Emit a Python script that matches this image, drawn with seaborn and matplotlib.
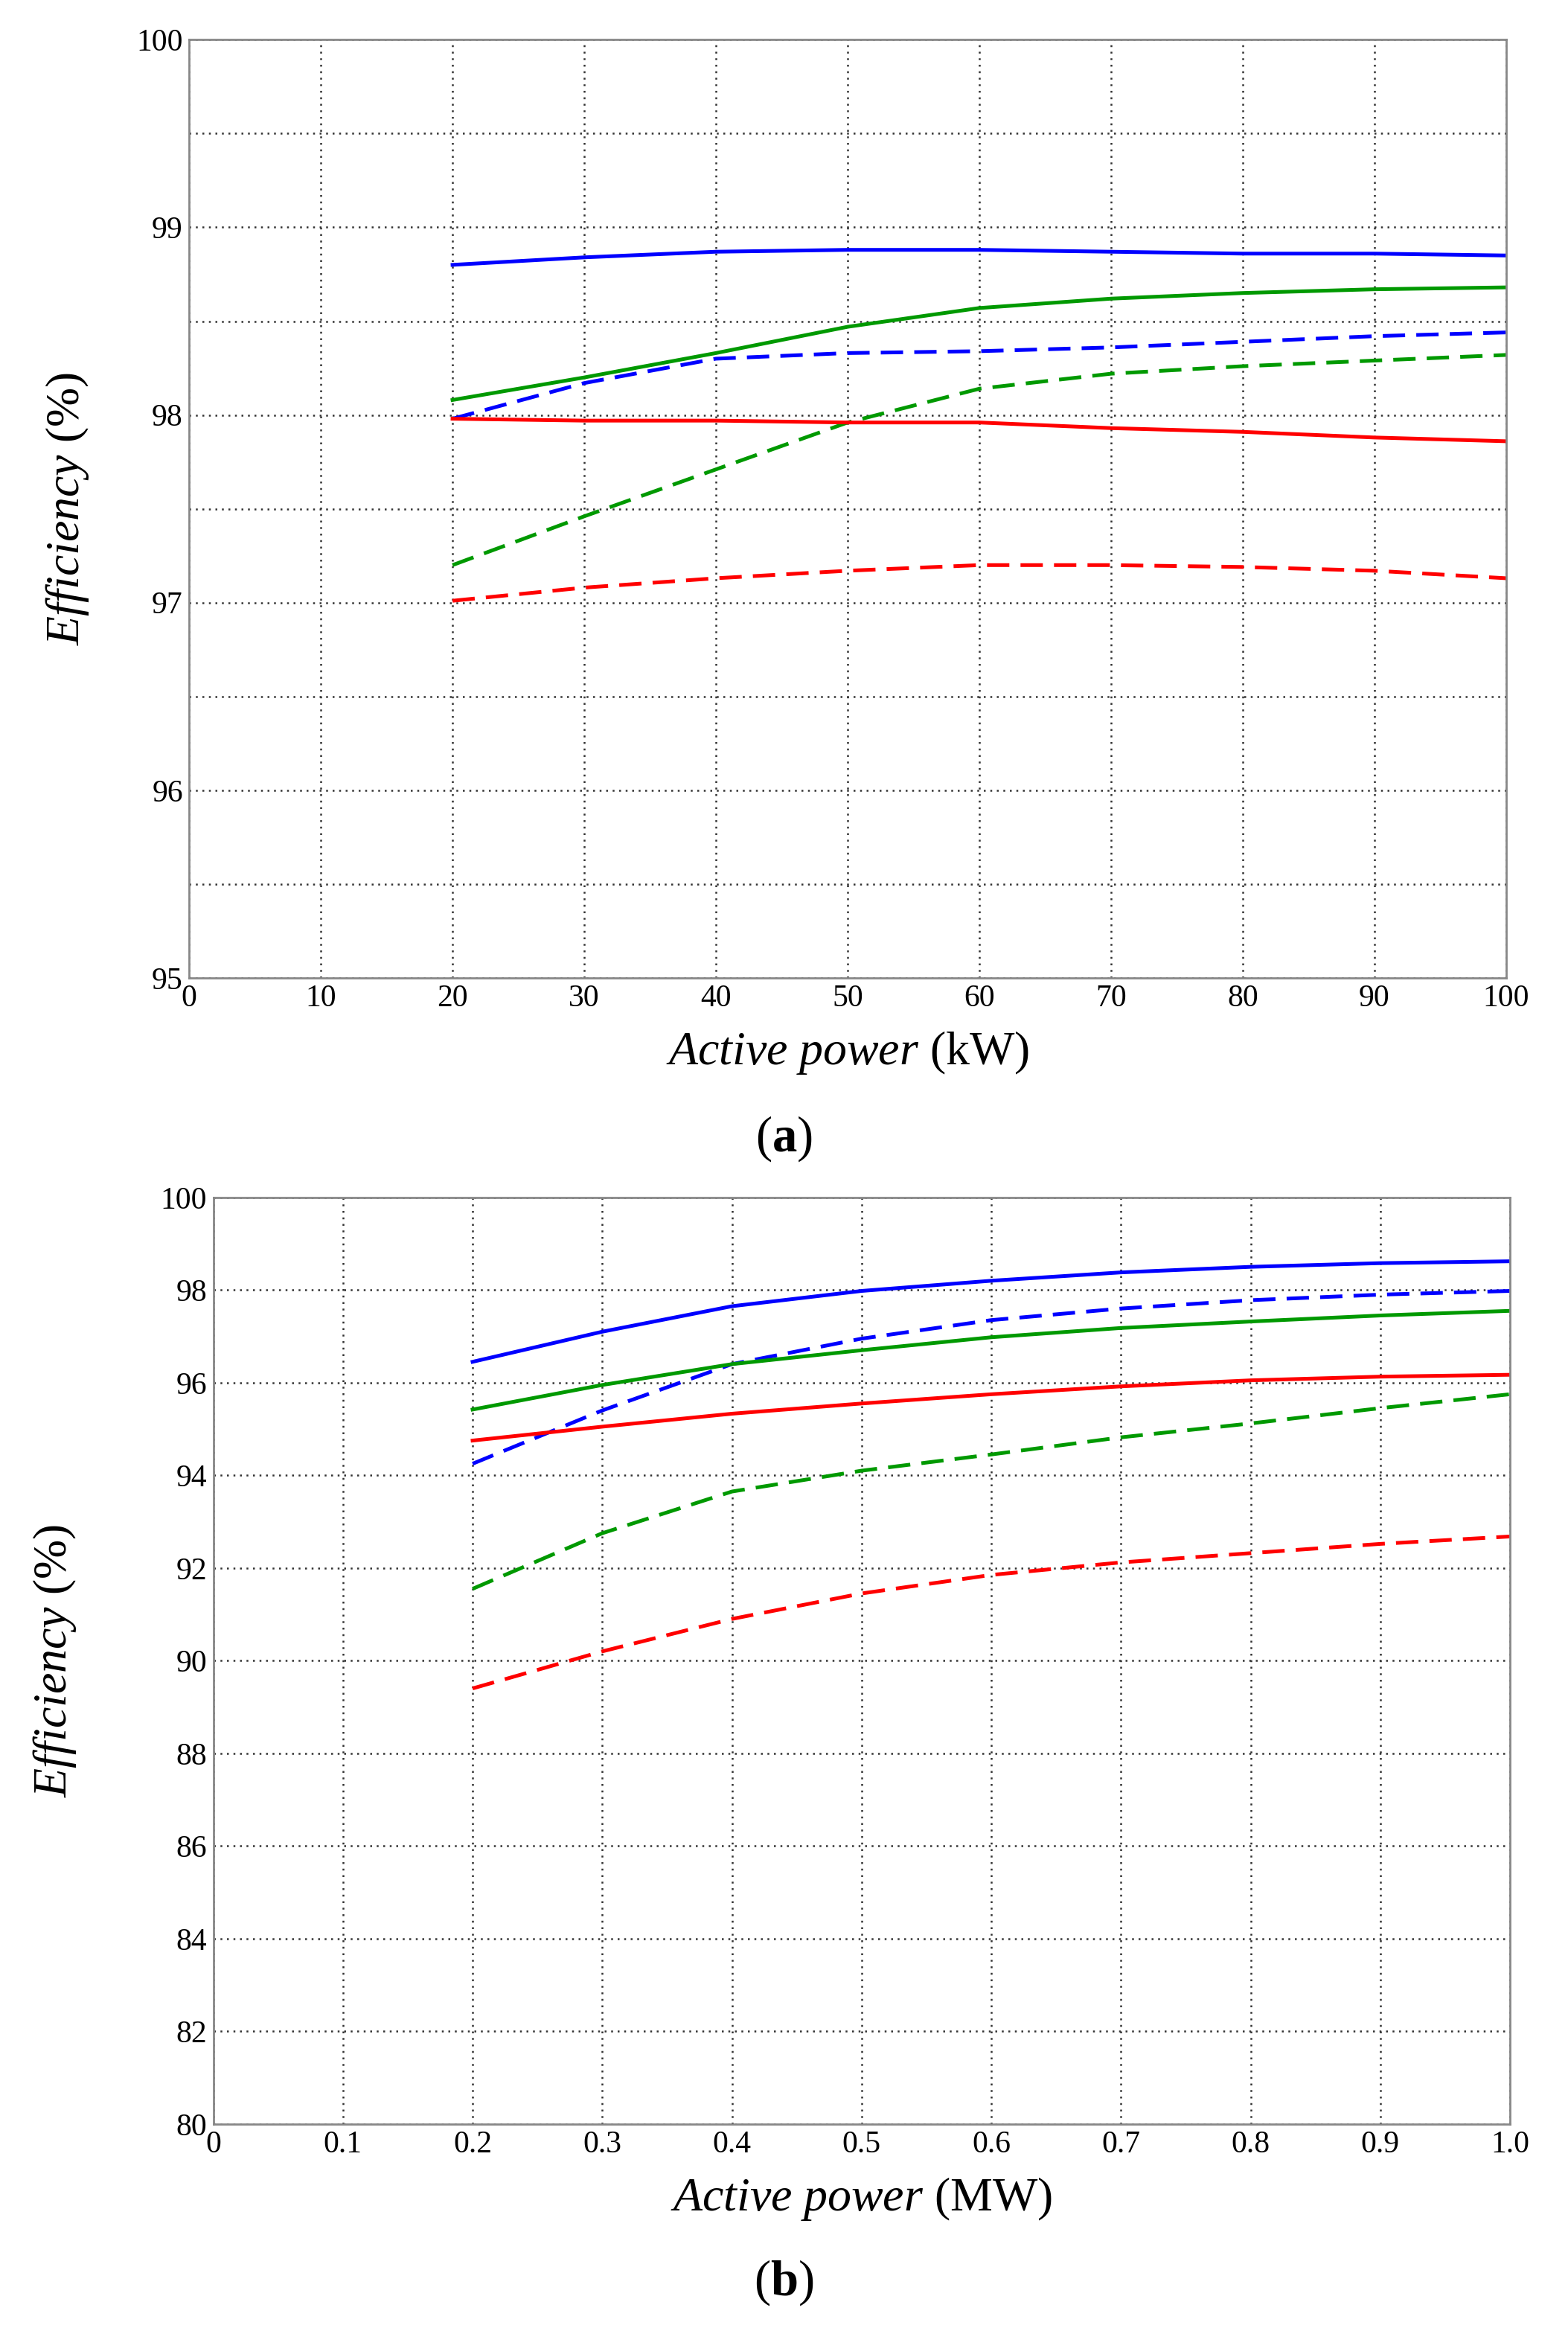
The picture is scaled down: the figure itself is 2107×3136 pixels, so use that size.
import numpy as np
import pandas as pd
import matplotlib
matplotlib.use("Agg")
import matplotlib.pyplot as plt
import seaborn as sns

plt.rcParams["font.family"] = "Liberation Serif"
plt.rcParams["mathtext.fontset"] = "custom"
plt.rcParams["mathtext.rm"] = "Liberation Serif"
plt.rcParams["mathtext.it"] = "Liberation Serif:italic"
plt.rcParams["mathtext.bf"] = "Liberation Serif:bold"

# panel (a) data, kW
x_a = [20, 30, 40, 50, 60, 70, 80, 90, 100]
a_blue_solid = [98.80, 98.84, 98.87, 98.88, 98.88, 98.87, 98.86, 98.86, 98.85]
a_green_solid = [98.08, 98.20, 98.33, 98.47, 98.57, 98.62, 98.65, 98.67, 98.68]
a_blue_dash = [97.98, 98.17, 98.30, 98.33, 98.34, 98.36, 98.39, 98.42, 98.44]
a_green_dash = [97.20, 97.46, 97.71, 97.96, 98.14, 98.22, 98.26, 98.29, 98.32]
a_red_solid = [97.98, 97.97, 97.97, 97.96, 97.96, 97.93, 97.91, 97.88, 97.86]
a_red_dash = [97.01, 97.08, 97.13, 97.17, 97.20, 97.20, 97.19, 97.17, 97.13]

# panel (b) data, MW
x_b = [0.2, 0.3, 0.4, 0.5, 0.6, 0.7, 0.8, 0.9, 1.0]
b_blue_solid = [96.45, 97.10, 97.65, 97.98, 98.20, 98.38, 98.50, 98.58, 98.62]
b_blue_dash = [94.25, 95.40, 96.40, 96.95, 97.35, 97.60, 97.78, 97.90, 97.98]
b_green_solid = [95.42, 95.95, 96.40, 96.70, 96.98, 97.18, 97.32, 97.45, 97.55]
b_red_solid = [94.75, 95.05, 95.33, 95.55, 95.75, 95.92, 96.05, 96.13, 96.17]
b_green_dash = [91.55, 92.75, 93.65, 94.10, 94.45, 94.82, 95.12, 95.45, 95.75]
b_red_dash = [89.40, 90.20, 90.90, 91.45, 91.85, 92.12, 92.32, 92.52, 92.68]

colors = {"blue": "#0000ff", "green": "#009900", "red": "#ff0000"}

fig = plt.figure(figsize=(10.535, 15.68), dpi=200)
ax_a = fig.add_axes([0.1206, 0.581, 0.840, 0.402])
ax_b = fig.add_axes([0.136, 0.090, 0.827, 0.397])


def draw(ax, x, series):
    for y, col, ls in series:
        sns.lineplot(x=x, y=y, ax=ax, color=colors[col], linewidth=1.8)
        ax.lines[-1].set_linestyle(ls)
        if ls == "--":
            ax.lines[-1].set_dashes((6, 3))


draw(ax_a, x_a, [(a_blue_solid, "blue", "-"), (a_green_solid, "green", "-"),
                 (a_blue_dash, "blue", "--"), (a_green_dash, "green", "--"),
                 (a_red_solid, "red", "-"), (a_red_dash, "red", "--")])
draw(ax_b, x_b, [(b_blue_solid, "blue", "-"), (b_blue_dash, "blue", "--"),
                 (b_green_solid, "green", "-"), (b_red_solid, "red", "-"),
                 (b_green_dash, "green", "--"), (b_red_dash, "red", "--")])

ax_a.set_xlim(0, 100)
ax_a.set_ylim(95, 100)
ax_a.set_xticks(range(0, 101, 10))
ax_a.set_yticks(np.arange(95, 100.01, 0.5))
ax_a.set_yticklabels([str(int(v)) if v == int(v) else "" for v in np.arange(95, 100.01, 0.5)])
ax_a.set_xlabel(r"$\mathit{Active\ power}$ (kW)", fontsize=23)

ax_b.set_xlim(0, 1.0)
ax_b.set_ylim(80, 100)
ax_b.set_xticks(np.arange(0, 1.01, 0.1))
ax_b.set_xticklabels(["0"] + ["%.1f" % v for v in np.arange(0.1, 1.01, 0.1)])
ax_b.set_yticks(range(80, 101, 2))
ax_b.set_xlabel(r"$\mathit{Active\ power}$ (MW)", fontsize=23)

for ax, lp in ((ax_a, 22), (ax_b, 40)):
    ax.set_ylabel(r"$\mathit{Efficiency}$ (%)", fontsize=23, labelpad=lp)
    ax.grid(True, linestyle=(0, (1, 2.5)), color="#333333", linewidth=0.9)
    ax.tick_params(length=0, labelsize=15, pad=3)
    for s in ax.spines.values():
        s.set_color("#888888")
        s.set_linewidth(1.0)
    ax.xaxis.labelpad = 8

fig.text(0.5, 0.512, r"($\mathbf{a}$)", ha="center", va="center", fontsize=24)
fig.text(0.5, 0.022, r"($\mathbf{b}$)", ha="center", va="center", fontsize=24)

fig.savefig("out.png", dpi=200)
